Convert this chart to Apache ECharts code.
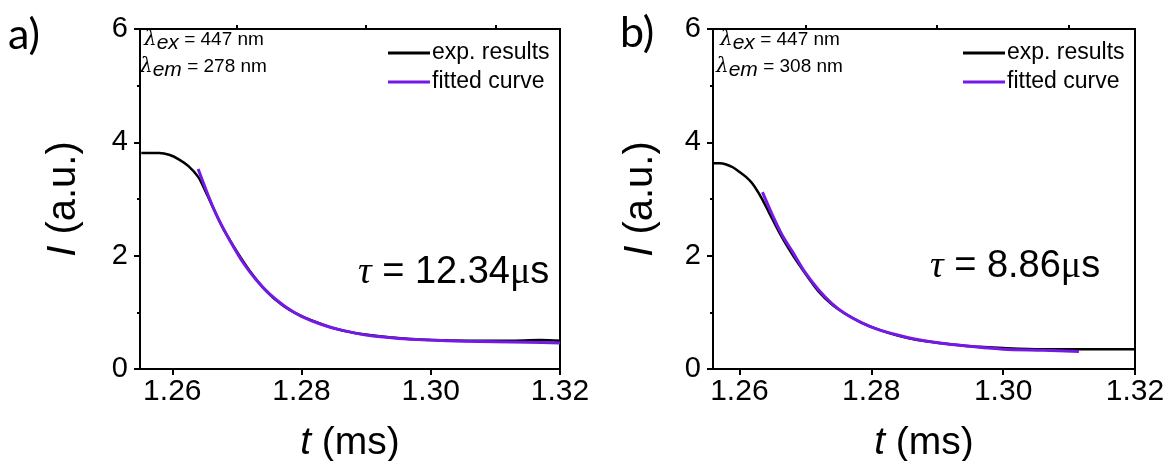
<!DOCTYPE html>
<html>
<head>
<meta charset="utf-8">
<script src="https://cdn.jsdelivr.net/npm/echarts@6/dist/echarts.min.js"></script>
<style>
  html, body { margin: 0; padding: 0; background: #fff; }
  #chart { width: 1169px; height: 461px; }
</style>
</head>
<body>
<div id="chart"></div>
<script>
// panel a) data
const tExpA = [1.2552, 1.2565, 1.2580, 1.2595, 1.2610, 1.2625, 1.2640, 1.2652, 1.2665, 1.2680, 1.2700, 1.2720, 1.2745, 1.2770, 1.2795, 1.2820, 1.2850, 1.2885, 1.2935, 1.3000, 1.3060, 1.3120, 1.3170, 1.3200];
const iExpA = [3.81, 3.81, 3.81, 3.78, 3.70, 3.58, 3.39, 3.12, 2.80, 2.45, 2.07, 1.73, 1.38, 1.13, 0.96, 0.84, 0.72, 0.63, 0.56, 0.51, 0.50, 0.50, 0.51, 0.50];
const tFitA = [1.2640, 1.2655, 1.2670, 1.2690, 1.2710, 1.2730, 1.2750, 1.2775, 1.2800, 1.2830, 1.2860, 1.2900, 1.2950, 1.3000, 1.3050, 1.3100, 1.3150, 1.3200];
const iFitA = [3.53, 3.08, 2.68, 2.25, 1.87, 1.57, 1.33, 1.10, 0.93, 0.79, 0.69, 0.60, 0.54, 0.51, 0.49, 0.48, 0.47, 0.46];

// panel b) data
const tExpB = [1.2561, 1.2570, 1.2580, 1.2590, 1.2600, 1.2610, 1.2620, 1.2633, 1.2645, 1.2660, 1.2675, 1.2690, 1.2705, 1.2720, 1.2740, 1.2760, 1.2785, 1.2810, 1.2840, 1.2870, 1.2910, 1.2950, 1.3000, 1.3060, 1.3120, 1.3200];
const iExpB = [3.63, 3.63, 3.61, 3.56, 3.48, 3.39, 3.27, 3.03, 2.76, 2.42, 2.12, 1.85, 1.60, 1.37, 1.14, 0.98, 0.82, 0.70, 0.59, 0.51, 0.45, 0.40, 0.37, 0.35, 0.35, 0.35];
const tFitB = [1.2635, 1.2650, 1.2665, 1.2680, 1.2700, 1.2720, 1.2740, 1.2760, 1.2785, 1.2810, 1.2840, 1.2870, 1.2910, 1.2950, 1.3000, 1.3060, 1.3115];
const iFitB = [3.12, 2.72, 2.36, 2.08, 1.70, 1.40, 1.16, 0.98, 0.82, 0.70, 0.60, 0.52, 0.45, 0.40, 0.35, 0.33, 0.31];

const xTicks = [1.26, 1.28, 1.30, 1.32];
const xMinorTicks = [1.27, 1.29, 1.31];
const xMinA = 1.255, xMinB = 1.256, xMax = 1.32;

const font = 'Liberation Sans';
const purple = '#7519e6';

function pairs(xs, ys) {
  return xs.map((x, i) => [x, ys[i]]);
}

function mainX(grid, min) {
  return {
    type: 'value', gridIndex: grid, min: min, max: xMax,
    axisLine: { lineStyle: { color: '#000', width: 2 } },
    axisTick: { customValues: xTicks, length: 6, lineStyle: { color: '#000', width: 2 } },
    axisLabel: { customValues: xTicks, formatter: v => v.toFixed(2), color: '#000', fontSize: 30, fontFamily: font, margin: 8 },
    splitLine: { show: false },
    name: '{i|t} (ms)', nameLocation: 'middle', nameGap: 55,
    nameTextStyle: { color: '#000', fontSize: 39, fontFamily: font, rich: { i: { fontStyle: 'italic', fontSize: 39, fontFamily: font } } }
  };
}
function minorX(grid, min) {
  return {
    type: 'value', gridIndex: grid, min: min, max: xMax,
    axisLine: { show: false },
    axisTick: { customValues: xMinorTicks, length: 4, lineStyle: { color: '#000', width: 2 } },
    axisLabel: { show: false },
    splitLine: { show: false }
  };
}
function yAx(grid, gap) {
  return {
    type: 'value', gridIndex: grid, min: 0, max: 6, interval: 2,
    axisLine: { show: true, lineStyle: { color: '#000', width: 2 } },
    axisTick: { show: true, length: 6, lineStyle: { color: '#000', width: 2 } },
    minorTick: { show: true, splitNumber: 2, length: 3, lineStyle: { color: '#000', width: 2 } },
    axisLabel: { color: '#000', fontSize: 29, fontFamily: font, margin: 12 },
    splitLine: { show: false },
    name: '{i|I} (a.u.)', nameLocation: 'middle', nameGap: gap, nameRotate: 90,
    nameTextStyle: { color: '#000', fontSize: 40, fontFamily: font, rich: { i: { fontStyle: 'italic', fontSize: 40, fontFamily: font } } }
  };
}

function lam(sub, val) {
  return '{l|λ}{s|' + sub + '}{n| = ' + val + ' nm}';
}
const lamRich = {
  l: { fontSize: 20, fontStyle: 'italic', fontFamily: 'DejaVu Serif', color: '#000', lineHeight: 28, verticalAlign: 'middle' },
  s: { fontSize: 21, fontStyle: 'italic', fontFamily: font, color: '#000', lineHeight: 28, verticalAlign: 'bottom' },
  n: { fontSize: 19, fontFamily: font, color: '#000', lineHeight: 28, verticalAlign: 'middle' }
};
const tauRich = {
  t: { fontSize: 38, fontStyle: 'italic', fontFamily: 'Liberation Serif', color: '#000' },
  n: { fontSize: 38, fontFamily: font, color: '#000' },
  m: { fontSize: 38, fontFamily: 'Liberation Serif', color: '#000' }
};

function legend(left) {
  return {
    left: left, top: 36, orient: 'vertical', icon: 'rect', itemWidth: 42, itemHeight: 3, itemGap: 5,
    textStyle: { color: '#000', fontSize: 23, fontFamily: font, lineHeight: 24, padding: [0, 0, 0, -3] },
    data: ['exp. results', 'fitted curve']
  };
}

let myChart = echarts.init(document.getElementById('chart'));
let option = {
  animation: false,
  backgroundColor: '#fff',
  grid: [
    { left: 140, top: 29, width: 420, height: 340, outerBoundsMode: 'none', show: true, borderColor: '#000', borderWidth: 2 },
    { left: 713, top: 29, width: 422, height: 340, outerBoundsMode: 'none', show: true, borderColor: '#000', borderWidth: 2 }
  ],
  xAxis: [mainX(0, xMinA), mainX(1, xMinB), minorX(0, xMinA), minorX(1, xMinB)],
  yAxis: [yAx(0, 56), yAx(1, 52)],
  legend: [legend(383), legend(958)],
  series: [
    { name: 'exp. results', type: 'line', xAxisIndex: 0, yAxisIndex: 0, data: pairs(tExpA, iExpA), smooth: 0.3, showSymbol: false, lineStyle: { color: '#000', width: 2.5 }, itemStyle: { color: '#000' } },
    { name: 'fitted curve', type: 'line', xAxisIndex: 0, yAxisIndex: 0, data: pairs(tFitA, iFitA), smooth: 0.3, showSymbol: false, lineStyle: { color: purple, width: 3 }, itemStyle: { color: purple } },
    { name: 'exp. results', type: 'line', xAxisIndex: 1, yAxisIndex: 1, data: pairs(tExpB, iExpB), smooth: 0.3, showSymbol: false, lineStyle: { color: '#000', width: 2.5 }, itemStyle: { color: '#000' } },
    { name: 'fitted curve', type: 'line', xAxisIndex: 1, yAxisIndex: 1, data: pairs(tFitB, iFitB), smooth: 0.3, showSymbol: false, lineStyle: { color: purple, width: 3 }, itemStyle: { color: purple } }
  ],
  graphic: [
    { type: 'text', left: 8, top: 14, style: { text: 'a)', fontSize: 43, fontFamily: 'Lato', fill: '#000' } },
    { type: 'text', left: 620, top: 12, style: { text: 'b)', fontSize: 43, fontFamily: 'Lato', fill: '#000' } },
    { type: 'text', left: 144, top: 30, style: { text: lam('ex', '447'), rich: lamRich } },
    { type: 'text', left: 140, top: 57, style: { text: lam('em', '278'), rich: lamRich } },
    { type: 'text', left: 720, top: 30, style: { text: lam('ex', '447'), rich: lamRich } },
    { type: 'text', left: 716, top: 57, style: { text: lam('em', '308'), rich: lamRich } },
    { type: 'text', left: 358, top: 254, style: { text: '{t|τ}{n| = 12.34}{m|μ}{n|s}', rich: tauRich } },
    { type: 'text', left: 930, top: 248, style: { text: '{t|τ}{n| = 8.86}{m|μ}{n|s}', rich: tauRich } }
  ]
};
myChart.setOption(option);
</script>
</body>
</html>
